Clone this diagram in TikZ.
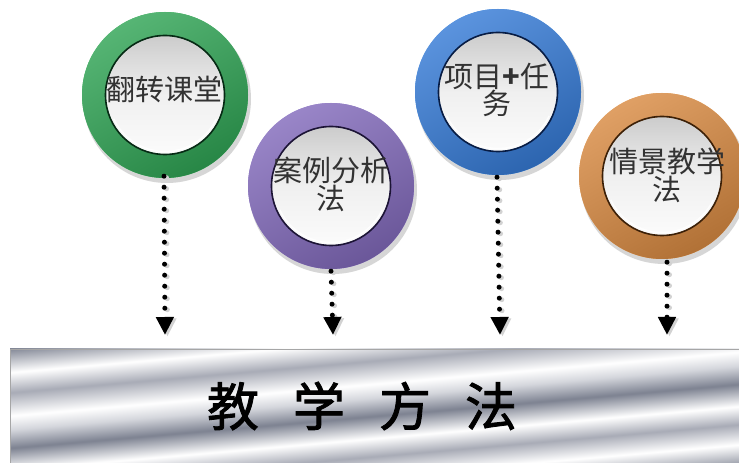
\documentclass[tikz,border=0pt]{standalone}
\usepackage{fontspec}
\newfontfamily\cjk{Noto Sans CJK SC}
\newfontfamily\cjktitle[FakeBold=1.6]{Noto Sans CJK SC}
\usetikzlibrary{arrows.meta}
\definecolor{gdark}{RGB}{10,60,30}
\definecolor{gmid}{RGB}{28,145,68}
\definecolor{glight}{RGB}{80,195,112}
\definecolor{pdark}{RGB}{40,28,75}
\definecolor{pmid}{RGB}{108,82,168}
\definecolor{plight}{RGB}{165,145,218}
\definecolor{bdark}{RGB}{12,40,95}
\definecolor{bmid}{RGB}{32,100,200}
\definecolor{blight}{RGB}{90,160,238}
\definecolor{odark}{RGB}{85,45,12}
\definecolor{omid}{RGB}{200,115,42}
\definecolor{olight}{RGB}{242,175,105}
\definecolor{mdark}{RGB}{125,130,145}
\definecolor{mgray}{RGB}{168,171,182}
\definecolor{mlight}{RGB}{212,214,220}
\definecolor{txtgray}{RGB}{50,50,50}
\pgfdeclareverticalshading{metal}{900bp}{color(0bp)=(mgray); color(30bp)=(white); color(55bp)=(mdark); color(80bp)=(white); color(100bp)=(mgray); color(118bp)=(white); color(140bp)=(mdark); color(158bp)=(mlight); color(172bp)=(white); color(195bp)=(mgray); color(215bp)=(white); color(240bp)=(mdark); color(265bp)=(white); color(300bp)=(mgray)}
\newcommand\methodring[5]{% x, y, light, mid, dark
  \fill[black!16] (#1+2,#2-4) circle (84);
  \foreach \r in {83,82.5,...,59.5} {
    \pgfmathsetmacro\pp{\r>=79 ? 100 : (\r>=71 ? 100*(\r-71)/8 : 0)}
    \pgfmathsetmacro\qq{\r>=70 ? 100 : (\r>=60 ? 100*(\r-60)/10 : 0)}
    \fill[#3!\pp!#4!\qq!#5] (#1,#2) circle (\r);
  }
  \fill[#4!60!#3] (#1,#2) circle (83) (#1,#2) circle (82);
  \shade[even odd rule, top color=white, bottom color=black, opacity=0.18, shading angle=30] (#1,#2) circle (83) (#1,#2) circle (60);
  \shade[top color=gray!40, bottom color=gray!3, middle color=gray!12] (#1,#2) circle (59);
  \draw[#5!70!black, line width=1.6pt] (#1,#2) circle (59.5);
  \draw[white, line width=1.5pt, opacity=.85] (#1,#2) ++(205:56.5) arc (205:335:56.5);
}
\tikzset{
  methodtext/.style={circle, minimum size=166pt, inner sep=0pt, align=center, text=txtgray,
    font=\cjk\fontsize{29}{21}\selectfont},
  dotarrow/.style={line width=5pt, black, dash pattern=on 0pt off 11pt, line cap=round,
    -{Triangle[width=17pt,length=18pt]}},
  dotshadow/.style={line width=5pt, gray!35, dash pattern=on 0pt off 11pt, line cap=round,
    -{Triangle[width=17pt,length=18pt]}, transform canvas={xshift=2.5pt,yshift=-1.5pt}},
}
\begin{document}
\begin{tikzpicture}[x=1pt,y=1pt]
\useasboundingbox (0,0) rectangle (739,463);
\fill[white] (0,0) rectangle (739,463);
% banner
\begin{scope}
  \clip (10,0) rectangle (739,114);
  \node[inner sep=0pt, rotate=5] (metalbg) at (375,57) {\pgfuseshading{metal}};
\end{scope}
\draw[gray!70, line width=0.8pt] (10,0) -- (10,114) -- (739,114);
\node[font=\cjktitle\fontsize{52}{52}\selectfont, text=black] (title) at (362,57) {\spaceskip=34pt 教 学 方 法};
% rings
\methodring{165}{368}{glight}{gmid}{gdark}
\methodring{331}{277}{plight}{pmid}{pdark}
\methodring{498}{371}{blight}{bmid}{bdark}
\methodring{662}{287}{olight}{omid}{odark}
\node[methodtext] (g) at (164,374) {翻转课堂};
\node[methodtext] (p) at (331,279) {案例分析\\法};
\node[methodtext] (b) at (497,373) {项目\textbf{+}任\\务};
\node[methodtext] (o) at (667,288) {情景教学\\法};
% arrow ends
\coordinate (ag) at (165,128);
\coordinate (ap) at (333,128);
\coordinate (ab) at (500,128);
\coordinate (ao) at (667,128);
\draw[dotshadow] ([yshift=-4pt]g.south) -- (ag);
\draw[dotshadow] ([yshift=-4pt]p.south) -- (ap);
\draw[dotshadow] ([yshift=-4pt]b.south) -- (ab);
\draw[dotshadow] ([yshift=-4pt]o.south) -- (ao);
\draw[dotarrow] ([yshift=-4pt]g.south) -- (ag);
\draw[dotarrow] ([yshift=-4pt]p.south) -- (ap);
\draw[dotarrow] ([yshift=-4pt]b.south) -- (ab);
\draw[dotarrow] ([yshift=-4pt]o.south) -- (ao);
\end{tikzpicture}
\end{document}
